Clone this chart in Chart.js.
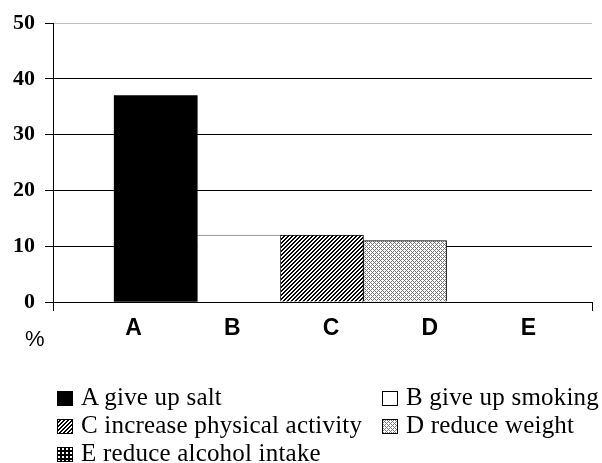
<!DOCTYPE html>
<html><head><meta charset="utf-8">
<script src="https://cdn.jsdelivr.net/npm/chart.js@4.4.1/dist/chart.umd.min.js"></script>
<style>
html,body{margin:0;padding:0;background:#fff;}
#wrap{position:relative;width:602px;height:463px;overflow:hidden;background:#fff;}
#c{position:absolute;left:0;top:0;}
#pct{position:absolute;left:25px;top:328px;font-family:'Liberation Sans',Arial,sans-serif;font-size:22px;line-height:22px;color:#000;}
#legend{position:absolute;left:57px;top:383px;display:grid;grid-template-columns:325px auto;font-family:'Liberation Serif','Times New Roman',serif;font-size:25px;line-height:28px;letter-spacing:0.2px;color:#000;white-space:nowrap;}
#legend .it canvas{display:inline-block;vertical-align:-1px;margin-right:8px;}
</style>
</head><body>
<div id="wrap">
<canvas id="c" width="602" height="463"></canvas>
<div id="pct">%</div>
<div id="legend"></div>
</div>
<script>
// ---- data ----
const categories = ['A', 'B', 'C', 'D', 'E'];
const values = [37, 12, 12, 11, 0];
const seriesNames = ['A give up salt', 'B give up smoking', 'C increase physical activity', 'D reduce weight', 'E reduce alcohol intake'];
const yTicks = [0, 10, 20, 30, 40, 50];
const fills = ['solid', 'white', 'hatch', 'diamond', 'dots'];

// ---- patterns ----
function tile(kind) {
  const t = document.createElement('canvas');
  t.width = 4; t.height = 4;
  const g = t.getContext('2d');
  if (kind === 'hatch') {
    g.fillStyle = '#fff'; g.fillRect(0, 0, 4, 4);
    g.fillStyle = '#000';
    for (let y = 0; y < 4; y++) {
      g.fillRect((3 - y + 4) % 4, y, 1, 1);
      g.fillRect((4 - y) % 4, y, 1, 1);
    }
  } else if (kind === 'diamond') {
    g.fillStyle = '#fff'; g.fillRect(0, 0, 4, 4);
    g.fillStyle = '#7a7a7a';
    for (let y = 0; y < 4; y++) for (let x = 0; x < 4; x++) {
      if ((x + y) % 4 === 0 || (x - y + 4) % 4 === 0) g.fillRect(x, y, 1, 1);
    }
  } else if (kind === 'dots') {
    g.fillStyle = '#000'; g.fillRect(0, 0, 4, 4);
    g.fillStyle = '#fff'; g.fillRect(1, 1, 2, 2);
  }
  return t;
}
function fillFor(kind, ctx) {
  if (kind === 'solid') return '#000';
  if (kind === 'white') return '#fff';
  return ctx.createPattern(tile(kind), 'repeat');
}

const canvas = document.getElementById('c');
const ctx = canvas.getContext('2d');

const datasets = categories.map((c, i) => ({
  label: seriesNames[i],
  data: [{ x: i, y: values[i] }],
  // a zero-height bar shows nothing in the reference
  backgroundColor: values[i] === 0 ? 'rgba(0,0,0,0)' : fillFor(fills[i], ctx),
  borderColor: i === 1 ? '#808080' : '#000',
  borderWidth: (i === 0 || values[i] === 0) ? 0 : (i === 1 ? { top: 1, left: 0, right: 0, bottom: 0 } : 1),
  borderSkipped: 'start',
  grouped: false,
  barPercentage: 1,
  categoryPercentage: 1
}));

const serif = "'Liberation Serif','Times New Roman',serif";
const sans = "'Liberation Sans',Arial,sans-serif";

new Chart(ctx, {
  type: 'bar',
  data: { datasets },
  options: {
    responsive: false,
    animation: false,
    layout: { padding: { left: 0, top: 21, right: 10, bottom: 112 } },
    plugins: { legend: { display: false }, tooltip: { enabled: false } },
    scales: {
      x: {
        type: 'linear', position: 'bottom', weight: 0, offset: false,
        min: -1.236, max: 5.25,
        afterBuildTicks: (s) => { s.ticks = [{ value: s.min }, { value: s.max }]; },
        ticks: { display: false },
        grid: { offset: false, drawOnChartArea: false, drawTicks: true, tickLength: 9, color: '#000', lineWidth: 1 },
        border: { display: true, color: '#000', width: 1 }
      },
      xl: {
        type: 'linear', axis: 'x', position: 'bottom', weight: 1, offset: false,
        min: -0.815, max: 4.643,
        afterBuildTicks: (s) => { s.ticks = categories.map((c, i) => ({ value: i })); },
        afterFit: (s) => { s.height = 40; },
        ticks: {
          callback: (v) => categories[v],
          autoSkip: false, maxRotation: 0, padding: 4, color: '#000',
          font: { family: sans, size: 23, weight: 'bold' }
        },
        grid: { display: false, drawTicks: false, offset: false },
        border: { display: false }
      },
      y: {
        type: 'linear', position: 'left',
        min: yTicks[0], max: yTicks[yTicks.length - 1],
        afterBuildTicks: (s) => { s.ticks = yTicks.map(v => ({ value: v })); },
        afterFit: (s) => { s.width = 53; },
        ticks: { padding: 10, color: '#000', font: { family: serif, size: 22, weight: 'bold' } },
        grid: {
          color: (c) => (c.tick && c.tick.value === yTicks[yTicks.length - 1]) ? '#c0c0c0' : '#000',
          tickColor: '#000', tickLength: 8, lineWidth: 1
        },
        border: { display: true, color: '#000', width: 1 }
      }
    }
  }
});

// ---- legend (HTML, real text) ----
const legend = document.getElementById('legend');
seriesNames.forEach((name, i) => {
  const it = document.createElement('div');
  it.className = 'it';
  const ic = document.createElement('canvas');
  ic.width = 16; ic.height = 15;
  const g = ic.getContext('2d');
  g.fillStyle = fillFor(fills[i], g);
  g.fillRect(0, 0, 16, 15);
  g.strokeStyle = '#000'; g.lineWidth = 1;
  g.strokeRect(0.5, 0.5, 15, 14);
  it.appendChild(ic);
  const sp = document.createElement('span');
  sp.textContent = name;
  it.appendChild(sp);
  legend.appendChild(it);
});
</script>
</body></html>
